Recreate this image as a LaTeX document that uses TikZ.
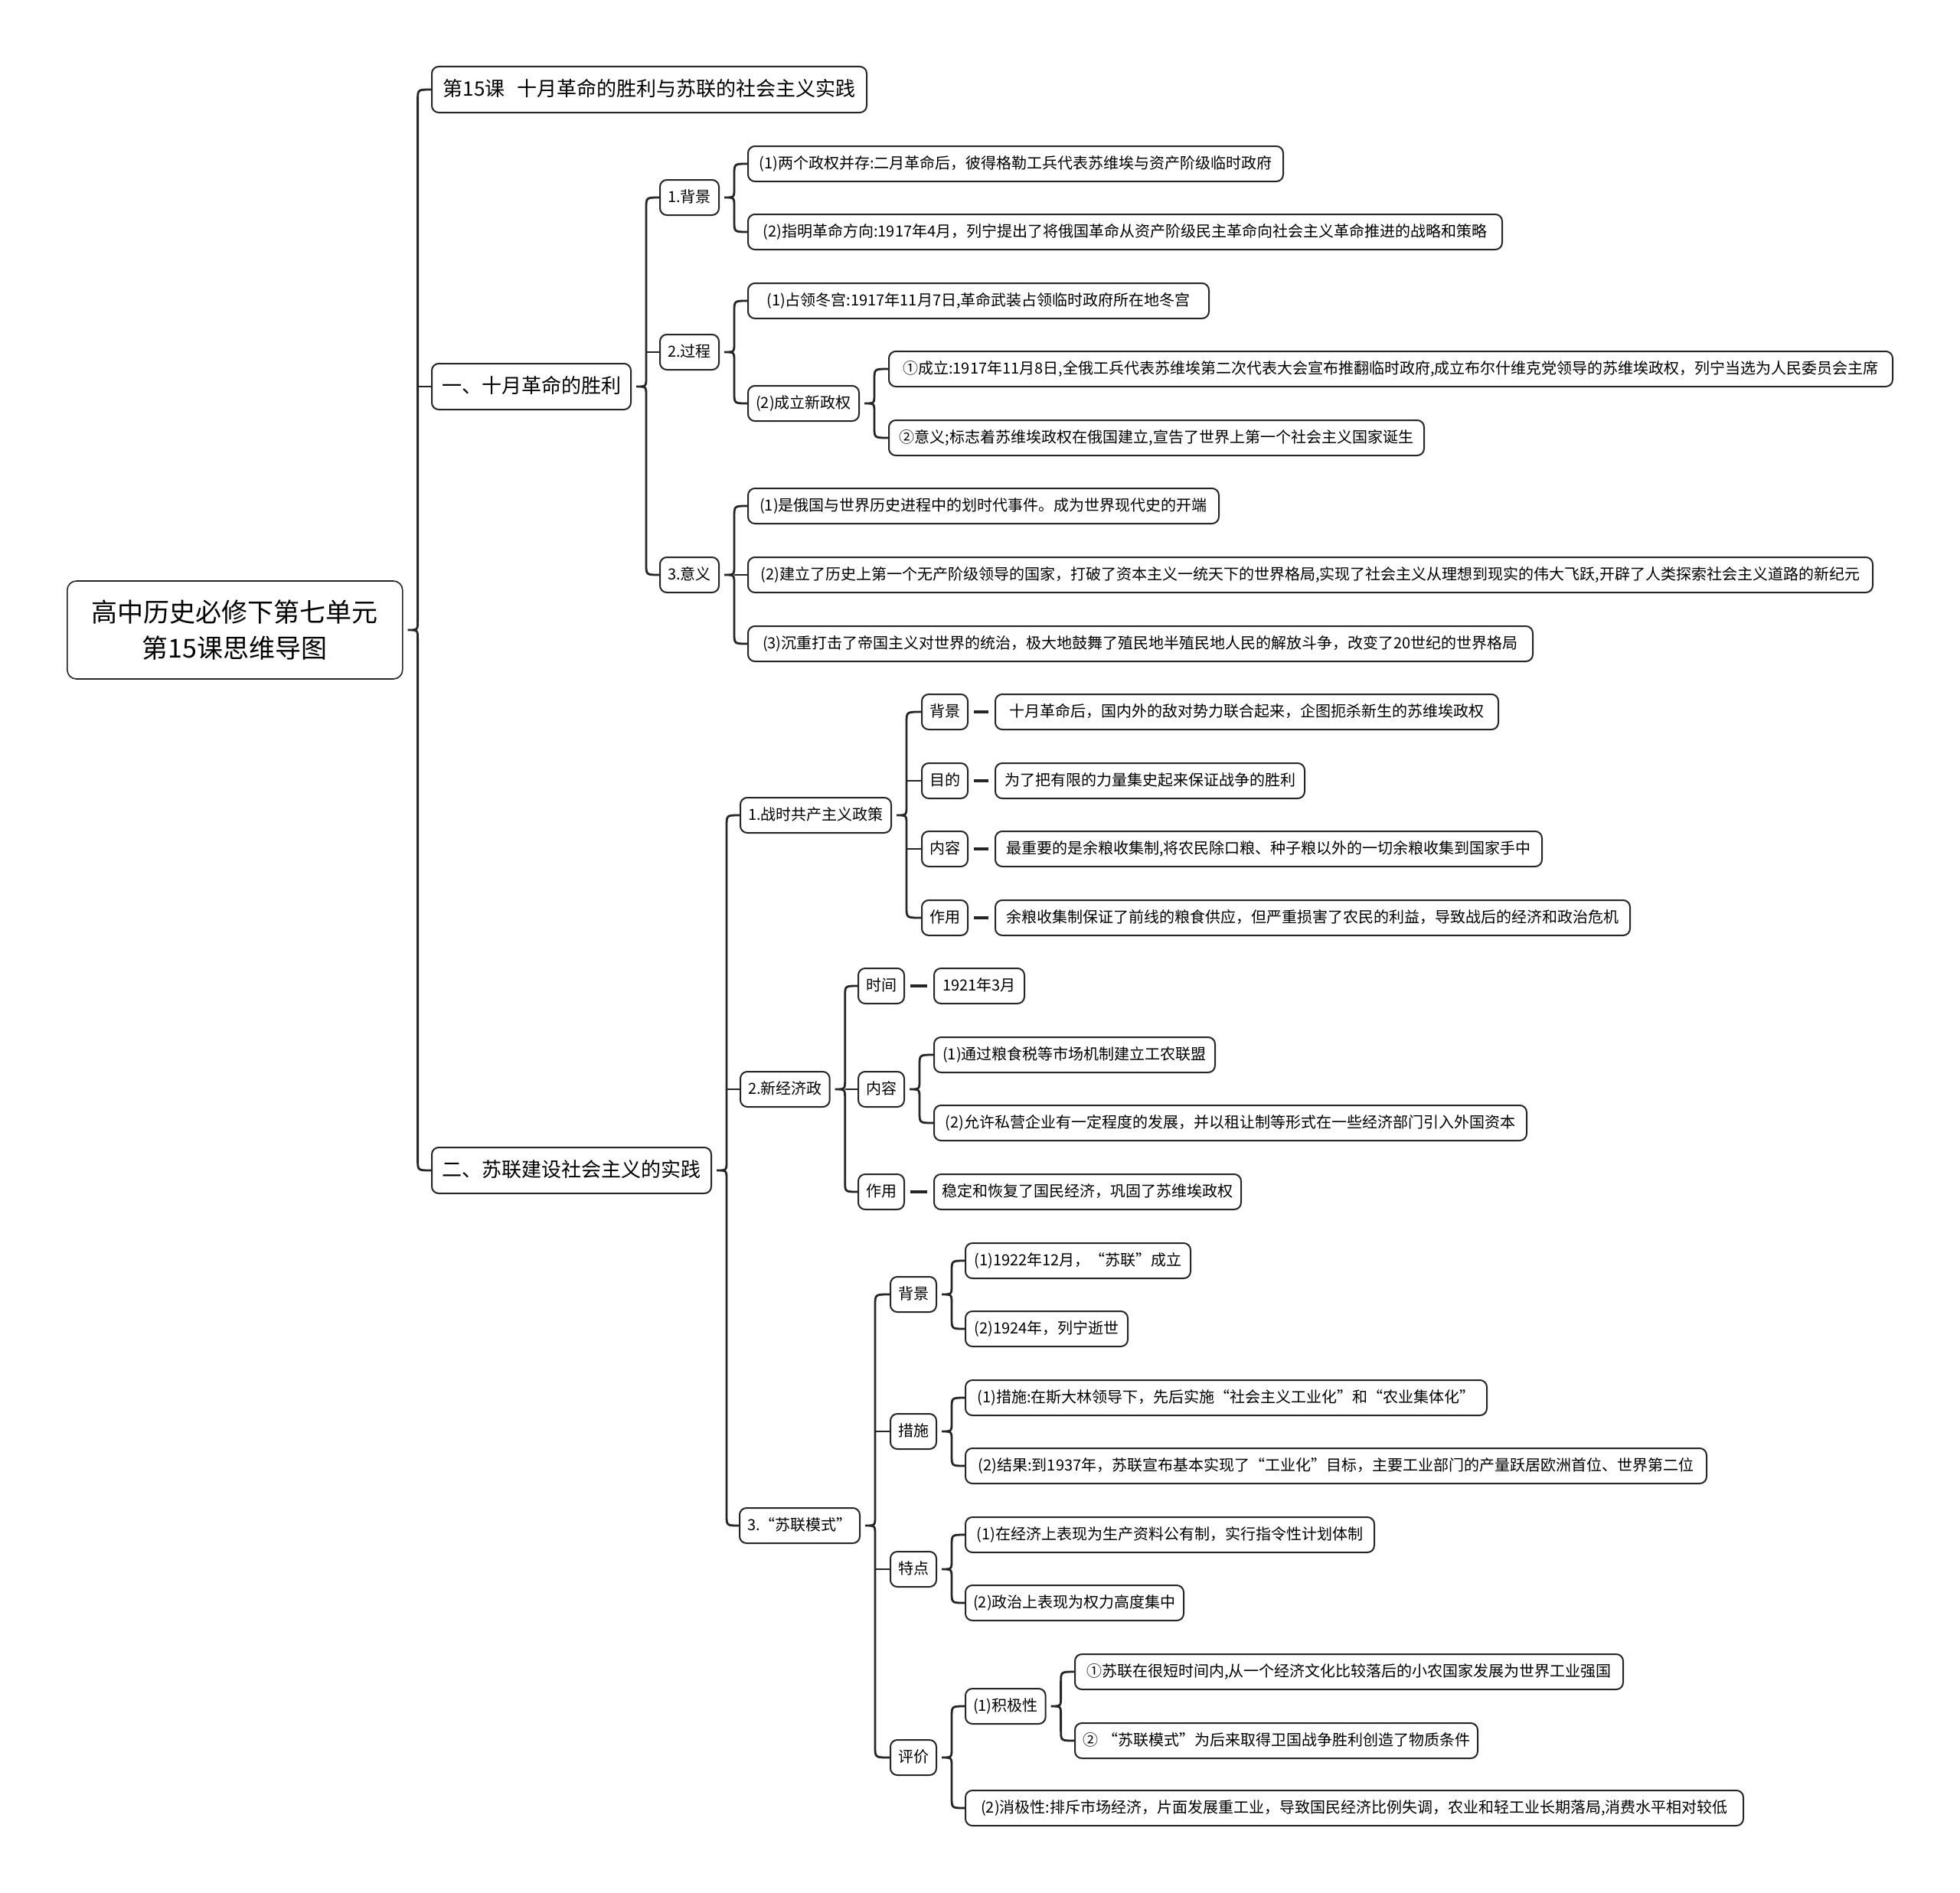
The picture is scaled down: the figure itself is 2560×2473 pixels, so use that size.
\documentclass[tikz,border=0pt]{standalone}
\usepackage{fontspec}
\setmainfont{Noto Sans CJK SC}
\usetikzlibrary{calc}
\tikzset{
  box/.style={draw=black!85, line width=2pt, rounded corners=9pt, fill=white, anchor=west,
    minimum height=46pt, inner xsep=10pt, inner ysep=0pt,
    font=\fontsize{20pt}{24pt}\selectfont, text height=17pt, text depth=3.5pt},
  l1box/.style={box, minimum height=60pt, inner xsep=8pt, font=\fontsize{26pt}{31pt}\selectfont,
    text height=22pt, text depth=4.5pt},
  rootbox/.style={draw=black!85, line width=1.6pt, rounded corners=12pt, fill=white, anchor=west,
    minimum height=128pt, align=center, font=\fontsize{34pt}{47pt}\selectfont},
  conn/.style={draw=black!85, line width=2.8pt},
  dashc/.style={draw=black!85, line width=3.5pt, shorten <=7pt, shorten >=8pt}
}
\newcommand\mmbox[6][box]{\pgfmathsetmacro\mmw{#4-#3}\node[#1, minimum width=\mmw pt] (#2) at (#3,#5) {#6};}
\newcommand\mmbrace[3]{%
  \draw[conn] let \p1=(#1.east), \p2=(#2.west), \p3=(#3.west) in
    (\p2) .. controls (\x1+19pt,\y2) .. (\x1+19pt,\y2-14pt)
    -- (\x1+19pt,\y1+12pt) .. controls (\x1+19pt,\y1) .. (\x1+6pt,\y1)
    .. controls (\x1+19pt,\y1) .. (\x1+19pt,\y1-12pt)
    -- (\x1+19pt,\y3+14pt) .. controls (\x1+19pt,\y3) .. (\p3);}
\newcommand\mmstub[2]{%
  \draw[conn] let \p1=(#1.east), \p2=(#2.west) in (\x1+19pt,\y2) -- (\p2);}
\begin{document}
\begin{tikzpicture}[x=1pt,y=-1pt]
\fill[white] (0,0) rectangle (2560,2473);
\useasboundingbox (0,0) rectangle (2560,2473);

\node[rootbox, minimum width=438pt] (root) at (87,823) {高中历史必修下第七单元\\第15课思维导图};

\mmbox[l1box]{s0}{563}{1131}{117}{第15课\hspace{0.6em}十月革命的胜利与苏联的社会主义实践}
\mmbox[l1box]{s1}{563}{823}{505}{一、十月革命的胜利}
\mmbox[l1box]{s2}{563}{928}{1529}{二、苏联建设社会主义的实践}

% Section 1
\mmbox{a1}{861}{938}{258}{1.背景}
\mmbox{a2}{861}{938}{460}{2.过程}
\mmbox{a3}{861}{938}{751}{3.意义}
\mmbox{a1a}{976}{1675}{214}{(1)两个政权并存:二月革命后，彼得格勒工兵代表苏维埃与资产阶级临时政府}
\mmbox{a1b}{976}{1961}{303}{(2)指明革命方向:1917年4月，列宁提出了将俄国革命从资产阶级民主革命向社会主义革命推进的战略和策略}
\mmbox{a2a}{976}{1578}{393}{(1)占领冬宫:1917年11月7日,革命武装占领临时政府所在地冬宫}
\mmbox{a2b}{976}{1121}{527}{(2)成立新政权}
\mmbox{a2b1}{1160}{2471}{482}{①成立:1917年11月8日,全俄工兵代表苏维埃第二次代表大会宣布推翻临时政府,成立布尔什维克党领导的苏维埃政权，列宁当选为人民委员会主席}
\mmbox{a2b2}{1160}{1859}{572}{②意义;标志着苏维埃政权在俄国建立,宣告了世界上第一个社会主义国家诞生}
\mmbox{a3a}{976}{1591}{661}{(1)是俄国与世界历史进程中的划时代事件。成为世界现代史的开端}
\mmbox{a3b}{976}{2445}{751}{(2)建立了历史上第一个无产阶级领导的国家，打破了资本主义一统天下的世界格局,实现了社会主义从理想到现实的伟大飞跃,开辟了人类探索社会主义道路的新纪元}
\mmbox{a3c}{976}{2001}{841}{(3)沉重打击了帝国主义对世界的统治，极大地鼓舞了殖民地半殖民地人民的解放斗争，改变了20世纪的世界格局}

% Section 2.1
\mmbox{b1}{966}{1163}{1065}{1.战时共产主义政策}
\mmbox{b1k1}{1203}{1262}{930}{背景}
\mmbox{b1t1}{1299}{1956}{930}{十月革命后，国内外的敌对势力联合起来，企图扼杀新生的苏维埃政权}
\mmbox{b1k2}{1203}{1262}{1020}{目的}
\mmbox{b1t2}{1299}{1703}{1020}{为了把有限的力量集史起来保证战争的胜利}
\mmbox{b1k3}{1203}{1262}{1109}{内容}
\mmbox{b1t3}{1299}{2013}{1109}{最重要的是余粮收集制,将农民除口粮、种子粮以外的一切余粮收集到国家手中}
\mmbox{b1k4}{1203}{1262}{1199}{作用}
\mmbox{b1t4}{1299}{2128}{1199}{余粮收集制保证了前线的粮食供应，但严重损害了农民的利益，导致战后的经济和政治危机}

% Section 2.2
\mmbox{b2}{966}{1082}{1423}{2.新经济政}
\mmbox{b2k1}{1120}{1180}{1288}{时间}
\mmbox{b2t1}{1219}{1337}{1288}{1921年3月}
\mmbox{b2k2}{1120}{1180}{1423}{内容}
\mmbox{b2t2a}{1219}{1586}{1378}{(1)通过粮食税等市场机制建立工农联盟}
\mmbox{b2t2b}{1219}{1993}{1467}{(2)允许私营企业有一定程度的发展，并以租让制等形式在一些经济部门引入外国资本}
\mmbox{b2k3}{1120}{1180}{1557}{作用}
\mmbox{b2t3}{1219}{1620}{1557}{稳定和恢复了国民经济，巩固了苏维埃政权}

% Section 2.3
\mmbox{b3}{965}{1122}{1993}{3.“苏联模式”}
\mmbox{b3k1}{1162}{1220}{1691}{背景}
\mmbox{b3k1a}{1260}{1554}{1647}{(1)1922年12月，“苏联”成立}
\mmbox{b3k1b}{1260}{1472}{1736}{(2)1924年，列宁逝世}
\mmbox{b3k2}{1162}{1220}{1870}{措施}
\mmbox{b3k2a}{1260}{1941}{1826}{(1)措施:在斯大林领导下，先后实施“社会主义工业化”和“农业集体化”}
\mmbox{b3k2b}{1260}{2228}{1915}{(2)结果:到1937年，苏联宣布基本实现了“工业化”目标，主要工业部门的产量跃居欧洲首位、世界第二位}
\mmbox{b3k3}{1162}{1220}{2050}{特点}
\mmbox{b3k3a}{1260}{1794}{2005}{(1)在经济上表现为生产资料公有制，实行指令性计划体制}
\mmbox{b3k3b}{1260}{1545}{2094}{(2)政治上表现为权力高度集中}
\mmbox{b3k4}{1162}{1220}{2296}{评价}
\mmbox{b3k4a}{1260}{1363}{2229}{(1)积极性}
\mmbox{b3k4a1}{1403}{2119}{2184}{①苏联在很短时间内,从一个经济文化比较落后的小农国家发展为世界工业强国}
\mmbox{b3k4a2}{1403}{1929}{2274}{②\hspace{0.3em}“苏联模式”为后来取得卫国战争胜利创造了物质条件}
\mmbox{b3k4b}{1260}{2276}{2362}{(2)消极性:排斥市场经济，片面发展重工业，导致国民经济比例失调，农业和轻工业长期落局,消费水平相对较低}

% Connectors
\mmbrace{root}{s0}{s2} \mmstub{root}{s1}
\mmbrace{s1}{a1}{a3} \mmstub{s1}{a2}
\mmbrace{a1}{a1a}{a1b}
\mmbrace{a2}{a2a}{a2b}
\mmbrace{a2b}{a2b1}{a2b2}
\mmbrace{a3}{a3a}{a3c} \mmstub{a3}{a3b}
\mmbrace{s2}{b1}{b3} \mmstub{s2}{b2}
\mmbrace{b1}{b1k1}{b1k4} \mmstub{b1}{b1k2} \mmstub{b1}{b1k3}
\draw[dashc] (b1k1.east) -- (b1t1.west);
\draw[dashc] (b1k2.east) -- (b1t2.west);
\draw[dashc] (b1k3.east) -- (b1t3.west);
\draw[dashc] (b1k4.east) -- (b1t4.west);
\mmbrace{b2}{b2k1}{b2k3} \mmstub{b2}{b2k2}
\draw[dashc] (b2k1.east) -- (b2t1.west);
\draw[dashc] (b2k3.east) -- (b2t3.west);
\mmbrace{b2k2}{b2t2a}{b2t2b}
\mmbrace{b3}{b3k1}{b3k4} \mmstub{b3}{b3k2} \mmstub{b3}{b3k3}
\mmbrace{b3k1}{b3k1a}{b3k1b}
\mmbrace{b3k2}{b3k2a}{b3k2b}
\mmbrace{b3k3}{b3k3a}{b3k3b}
\mmbrace{b3k4}{b3k4a}{b3k4b}
\mmbrace{b3k4a}{b3k4a1}{b3k4a2}
\end{tikzpicture}
\end{document}
